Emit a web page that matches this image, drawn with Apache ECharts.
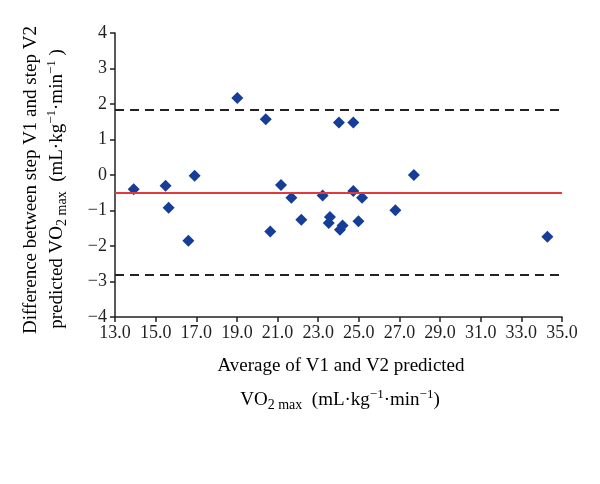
<!DOCTYPE html>
<html>
<head>
<meta charset="utf-8">
<script src="https://cdn.jsdelivr.net/npm/echarts@6/dist/echarts.min.js"></script>
<style>html,body{margin:0;padding:0;background:#fff}#c{width:600px;height:484px}</style>
</head>
<body>
<div id="c"></div>
<script>
// Data
const avgValues = [13.92, 15.49, 15.64, 16.61, 16.92, 19.02, 20.42, 20.64, 21.17, 21.68, 22.17, 23.22, 23.52, 23.58, 24.02, 24.07, 24.20, 24.73, 24.73, 24.98, 25.16, 26.80, 27.71, 34.28];
const diffValues = [-0.40, -0.30, -0.92, -1.85, -0.02, 2.17, 1.57, -1.59, -0.28, -0.64, -1.26, -0.58, -1.35, -1.18, 1.48, -1.54, -1.42, 1.48, -0.45, -1.30, -0.64, -0.99, 0.00, -1.74];
const meanDiff = -0.51;
const upperLimit = 1.83;
const lowerLimit = -2.80;
const xTicks = [13, 15, 17, 19, 21, 23, 25, 27, 29, 31, 33, 35];
const yTicks = [-4, -3, -2, -1, 0, 1, 2, 3, 4];

const FONT = "'Liberation Serif', 'DejaVu Serif', serif";
const TXT = '#231f20';
const points = avgValues.map((x, i) => [x, diffValues[i]]);

const chart = echarts.init(document.getElementById('c'), null, {renderer: 'canvas'});
const rich = {
  n: {fontFamily: FONT, fontSize: 19, color: TXT},
  sub: {fontFamily: FONT, fontSize: 14, color: TXT, padding: [10, 0, 0, 0]},
  sup: {fontFamily: FONT, fontSize: 13, color: TXT, padding: [0, 0, 10, 0]}
};
chart.setOption({
  animation: false,
  backgroundColor: '#fff',
  grid: {left: 115, right: 38, top: 33, bottom: 167},
  xAxis: {
    type: 'value', min: xTicks[0], max: xTicks[xTicks.length - 1], interval: 2,
    axisLine: {onZero: false, lineStyle: {color: TXT, width: 1.5}},
    axisTick: {show: true, length: 5, lineStyle: {color: TXT, width: 1.5}},
    splitLine: {show: false},
    axisLabel: {fontFamily: FONT, fontSize: 18, color: TXT, margin: 7, formatter: v => v.toFixed(1)}
  },
  yAxis: {
    type: 'value', min: yTicks[0], max: yTicks[yTicks.length - 1], interval: 1,
    axisLine: {show: true, onZero: false, lineStyle: {color: TXT, width: 1.5}},
    axisTick: {show: true, length: 5, lineStyle: {color: TXT, width: 1.5}},
    splitLine: {show: false},
    axisLabel: {fontFamily: FONT, fontSize: 18, color: TXT, margin: 8, formatter: v => String(v).replace('-', '\u2212')}
  },
  series: [{
    type: 'scatter',
    data: points,
    symbol: 'diamond',
    symbolSize: 12,
    itemStyle: {color: '#163d97', opacity: 1},
    markLine: {
      silent: true, symbol: 'none', label: {show: false}, animation: false,
      data: [
        {yAxis: meanDiff, lineStyle: {color: '#e0393e', width: 2, type: 'solid'}},
        {yAxis: upperLimit, lineStyle: {color: '#222', width: 2, type: [9, 6]}},
        {yAxis: lowerLimit, lineStyle: {color: '#222', width: 2, type: [9, 6]}}
      ]
    }
  }],
  graphic: [
    {type: 'text', x: 341, y: 366, style: {text: '{n|Average of V1 and V2 predicted}', rich, align: 'center', verticalAlign: 'middle'}},
    {type: 'text', x: 340, y: 400, style: {text: '{n|VO}{sub|2 max}{n|  (mL·kg}{sup|\u22121}{n|·min}{sup|\u22121}{n|)}', rich, align: 'center', verticalAlign: 'middle'}},
    {type: 'text', x: 31, y: 180, rotation: Math.PI / 2, style: {text: '{n|Difference between step V1 and step V2}', rich, align: 'center', verticalAlign: 'middle'}},
    {type: 'text', x: 57, y: 189, rotation: Math.PI / 2, style: {text: '{n|predicted VO}{sub|2 max}{n|  (mL·kg}{sup|\u22121}{n|·min}{sup|\u22121}{n| )}', rich, align: 'center', verticalAlign: 'middle'}}
  ]
});
</script>
</body>
</html>
